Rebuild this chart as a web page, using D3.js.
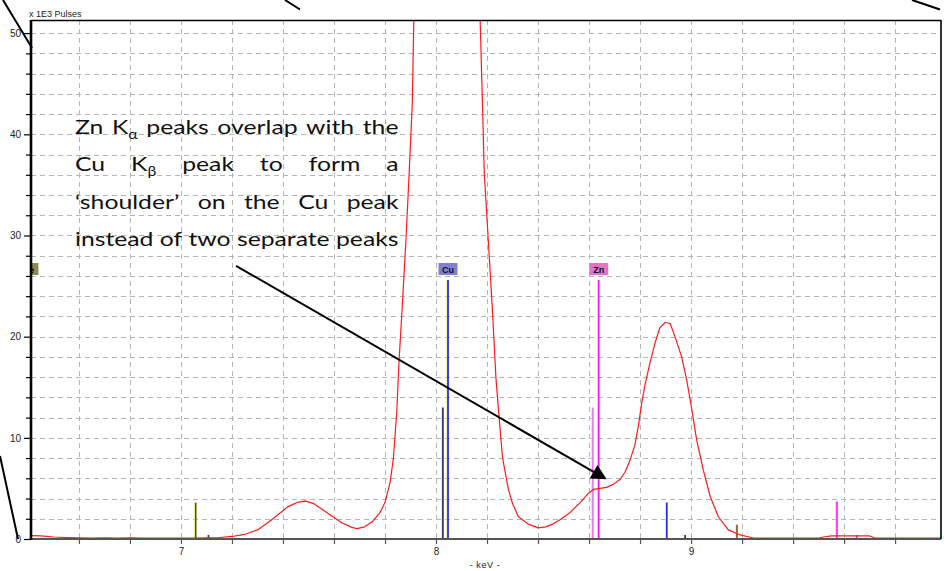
<!DOCTYPE html>
<html>
<head>
<meta charset="utf-8">
<script src="https://cdn.jsdelivr.net/npm/d3@7"></script>
<style>
  html, body { margin: 0; padding: 0; background: #fff; }
  svg { display: block; }
</style>
</head>
<body>
<svg id="chart" width="950" height="571"></svg>
<script>
// EDS spectrum of a Cu/Zn sample: energy (keV) and intensity (x 1000 pulses)
const energy = [
  6.41, 6.45, 6.50, 6.55, 6.60, 6.65, 6.70, 6.75, 6.80, 6.85, 6.90, 6.95, 7.00, 7.05,
  7.10, 7.15, 7.20, 7.25, 7.30, 7.34, 7.38, 7.42, 7.46, 7.49, 7.52, 7.55, 7.59, 7.63,
  7.67, 7.69, 7.72, 7.75, 7.78, 7.80, 7.82, 7.833, 7.846, 7.855, 7.867, 7.882, 7.895,
  7.907, 7.913, 7.93, 7.96, 8.00, 8.04, 8.08, 8.12, 8.15, 8.173, 8.182, 8.189, 8.205,
  8.221, 8.235, 8.248, 8.261, 8.283, 8.30, 8.323, 8.36, 8.40, 8.43, 8.46, 8.486, 8.525,
  8.565, 8.597, 8.617, 8.643, 8.669, 8.695, 8.722, 8.741, 8.761, 8.780, 8.793, 8.807,
  8.820, 8.839, 8.859, 8.878, 8.898, 8.918, 8.937, 8.963, 8.983, 9.003, 9.022, 9.048,
  9.075, 9.107, 9.146, 9.192, 9.245, 9.30, 9.35, 9.40, 9.45, 9.50, 9.52, 9.55, 9.60,
  9.65, 9.70, 9.72, 9.80, 9.90, 9.98
];
const counts = [
  0.33, 0.30, 0.20, 0.15, 0.12, 0.10, 0.12, 0.10, 0.12, 0.10, 0.08, 0.08, 0.10, 0.10,
  0.12, 0.15, 0.25, 0.45, 0.90, 1.60, 2.40, 3.20, 3.65, 3.75, 3.50, 3.00, 2.30, 1.60,
  1.15, 1.03, 1.20, 1.70, 2.60, 3.60, 5.60, 8.0, 12.5, 17.6, 22.7, 29.5, 36.3,
  43.1, 51.3, 75, 110, 140, 150, 140, 100, 75, 51.3, 43.1, 36.3, 29.5,
  22.7, 15.9, 11.8, 8.0, 5.0, 3.5, 2.2, 1.5, 1.1, 1.2, 1.5, 1.9, 2.6,
  3.6, 4.5, 4.9, 5.0, 5.1, 5.4, 5.9, 6.6, 7.8, 9.3, 11.1, 13.5,
  15.3, 17.4, 19.4, 20.9, 21.4, 21.3, 20.0, 18.0, 15.7, 12.8, 9.8, 6.8,
  4.2, 2.2, 0.9, 0.4, 0.1, 0.1, 0.1, 0.1, 0.1, 0.1, 0.2, 0.3, 0.3,
  0.3, 0.3, 0.1, 0.1, 0.1, 0.1
];

// Element line markers (energy keV, relative height in the same units)
const cuEnergy = [8.027, 8.047, 8.905, 8.977];
const cuHeight = [13.0, 25.6, 3.6, 0.4];
const znEnergy = [8.615, 8.638, 9.572, 9.650];
const znHeight = [13.0, 25.6, 3.7, 0.4];
const feEnergy = [6.391, 6.404, 7.058, 7.108];
const feHeight = [13.0, 25.6, 3.6, 0.4];
const sumEnergy = [9.180];
const sumHeight = [1.4];

// Axis ticks
const xTickLabels = [7, 8, 9];
const yTickLabels = [0, 10, 20, 30, 40, 50];

// Annotation text, one array per line; [text, subscript]
const noteLines = [
  [["Zn"], ["K", "α"], ["peaks"], ["overlap"], ["with"], ["the"]],
  [["Cu"], ["K", "β"], ["peak"], ["to"], ["form"], ["a"]],
  [["‘shoulder’"], ["on"], ["the"], ["Cu"], ["peak"]],
  [["instead"], ["of"], ["two"], ["separate"], ["peaks"]]
];
const arrowFrom = [7.216, 27.0];
const arrowTo = [8.669, 5.9];

// ---- layout ----
const svg = d3.select("#chart");
const L = 31, R = 941, T = 20, B = 539;

const x = d3.scaleLinear().domain([6.412, 9.98]).range([L, R]);
const y = d3.scaleLinear().domain([0, 51.3]).range([B, T]);

svg.append("defs").append("clipPath").attr("id", "plotClip")
  .append("rect").attr("x", L).attr("y", T).attr("width", R - L).attr("height", B - T);

// Grid
const grid = svg.append("g").attr("stroke", "#b4b4b4").attr("stroke-width", 1)
  .attr("stroke-dasharray", "5,4");
grid.selectAll("line.h").data(d3.range(2, 51, 2)).join("line")
  .attr("x1", L).attr("x2", R)
  .attr("y1", d => Math.round(y(d)) + 0.5).attr("y2", d => Math.round(y(d)) + 0.5);
grid.selectAll("line.v").data(d3.range(6.6, 9.9, 0.2)).join("line")
  .attr("y1", T).attr("y2", B)
  .attr("x1", d => Math.round(x(d)) + 0.5).attr("x2", d => Math.round(x(d)) + 0.5);

const plot = svg.append("g").attr("clip-path", "url(#plotClip)");

// Element markers
function markers(en, ht, colors) {
  const g = plot.append("g");
  en.forEach((e, i) => {
    const px = x(e);
    g.append("line").attr("x1", px - 1.2).attr("x2", px - 1.2)
      .attr("y1", y(0)).attr("y2", y(ht[i]))
      .attr("stroke", "#eeee70").attr("stroke-width", 0.9);
    g.append("line").attr("x1", px).attr("x2", px)
      .attr("y1", y(0)).attr("y2", y(ht[i]))
      .attr("stroke", colors[i]).attr("stroke-width", 1.6);
  });
}
markers(cuEnergy, cuHeight, ["#22226e", "#1010ff", "#2020ee", "#1a1aaa"]);
markers(znEnergy, znHeight, ["#f070e8", "#ff10ff", "#ff10ff", "#e020d0"]);
markers(feEnergy, feHeight, ["#6e6e20", "#6e6e20", "#5a5a18", "#3a3a10"]);
markers(sumEnergy, sumHeight, ["#7a5218"]);

// Element tags above the strongest line
function tag(label, e, h, fill) {
  const cx = x(e), top = y(h) - 17;
  plot.append("rect").attr("x", cx - 9.5).attr("y", top).attr("width", 19).attr("height", 12)
    .attr("fill", fill);
  plot.append("text").attr("x", cx).attr("y", top + 9.5).attr("text-anchor", "middle")
    .attr("font-family", "Liberation Sans, Arial, sans-serif").attr("font-size", 9)
    .attr("font-weight", "bold").attr("fill", "#101020").text(label);
}
tag("Cu", cuEnergy[1], cuHeight[1], "#8080d0");
tag("Zn", znEnergy[1], znHeight[1], "#e872c8");
tag("Fe", feEnergy[1], feHeight[1], "#8a8a52");

// Spectrum
plot.append("path").datum(energy.map((e, i) => [e, counts[i]]))
  .attr("fill", "none").attr("stroke", "#ff1a1a").attr("stroke-width", 1.2)
  .attr("stroke-linejoin", "round")
  .attr("d", d3.line().x(d => x(d[0])).y(d => y(d[1])));

// Axes
const small = "Liberation Sans, Arial, sans-serif";
const yAxis = svg.append("g").attr("transform", `translate(${L},0)`)
  .call(d3.axisLeft(y).tickValues(d3.range(0, 51, 2)).tickSize(5)
    .tickFormat(d => yTickLabels.includes(d) ? d : ""));
yAxis.select(".domain").remove();
yAxis.selectAll(".tick line").attr("stroke", "#000").attr("stroke-width", 1.2)
  .attr("x2", d => yTickLabels.includes(d) ? -7 : -5);
yAxis.selectAll(".tick text").attr("x", -10).attr("font-family", small)
  .attr("font-size", 10).attr("fill", "#222");

const xAxis = svg.append("g").attr("transform", `translate(0,${B})`)
  .call(d3.axisBottom(x).tickValues(d3.range(6.6, 9.9, 0.2)).tickSize(5)
    .tickFormat(d => xTickLabels.some(v => Math.abs(v - d) < 1e-6) ? d3.format("d")(d) : ""));
xAxis.select(".domain").remove();
xAxis.selectAll(".tick line").attr("stroke", "#555").attr("stroke-width", 1.2);
xAxis.selectAll(".tick text").attr("y", 9).attr("font-family", small)
  .attr("font-size", 10).attr("fill", "#222");

// Frame
svg.append("line").attr("x1", L).attr("x2", R).attr("y1", B).attr("y2", B)
  .attr("stroke", "#555").attr("stroke-width", 2.2);
svg.append("line").attr("x1", L).attr("x2", R).attr("y1", T + 0.5).attr("y2", T + 0.5)
  .attr("stroke", "#000").attr("stroke-width", 1.6);
svg.append("line").attr("x1", R).attr("x2", R).attr("y1", T).attr("y2", B)
  .attr("stroke", "#000").attr("stroke-width", 1.6);
svg.append("line").attr("x1", L).attr("x2", L).attr("y1", T).attr("y2", B + 1)
  .attr("stroke", "#000").attr("stroke-width", 2.6);

svg.append("text").attr("x", 29).attr("y", 17).attr("font-family", small)
  .attr("font-size", 9).attr("fill", "#222").text("x 1E3 Pulses");
svg.append("text").attr("x", 485).attr("y", 568).attr("text-anchor", "middle")
  .attr("font-family", small).attr("font-size", 9).attr("fill", "#222")
  .attr("letter-spacing", 0.6).text("- keV -");

// Callout guide lines around the panel
const guides = [[3, 0, 32, 48], [0, 456, 18, 539], [285, 0, 300, 9.5], [912, 0, 940, 9.5]];
svg.append("g").selectAll("line").data(guides).join("line")
  .attr("x1", d => d[0]).attr("y1", d => d[1]).attr("x2", d => d[2]).attr("y2", d => d[3])
  .attr("stroke", "#000").attr("stroke-width", 2);

// Justified annotation block
const noteLeft = 75, noteRight = 398.5, base0 = 134, lineGap = 37.4;
const noteFont = "Lato, 'Open Sans', sans-serif";
const probe = svg.append("text").attr("font-family", noteFont).attr("font-size", 19.5)
  .text(noteLines[3].map(w => w.join("")).join(" "));
const natural = probe.node().getComputedTextLength();
probe.remove();
const sx = (noteRight - noteLeft) / natural;
const W = (noteRight - noteLeft) / sx;

noteLines.forEach((words, li) => {
  const g = svg.append("g")
    .attr("transform", `translate(${noteLeft},${base0 + li * lineGap}) scale(${sx},1)`);
  const nodes = words.map(w => {
    const t = g.append("text").attr("font-family", noteFont).attr("font-size", 19.5)
      .attr("fill", "#111");
    t.append("tspan").text(w[0]);
    if (w[1]) t.append("tspan").attr("font-size", 12.5).attr("dy", 4.5).text(w[1]);
    return t;
  });
  const widths = nodes.map(t => t.node().getComputedTextLength());
  const gap = (W - d3.sum(widths)) / (words.length - 1);
  let cx = 0;
  nodes.forEach((t, i) => { t.attr("x", cx); cx += widths[i] + gap; });
});

// Arrow pointing at the shoulder
const ax0 = x(arrowFrom[0]), ay0 = y(arrowFrom[1]);
const ax1 = x(arrowTo[0]), ay1 = y(arrowTo[1]);
const ang = Math.atan2(ay1 - ay0, ax1 - ax0);
const headLen = 15, headHalf = 7.8;
const bx = ax1 - headLen * Math.cos(ang), by = ay1 - headLen * Math.sin(ang);
svg.append("line").attr("x1", ax0).attr("y1", ay0).attr("x2", bx).attr("y2", by)
  .attr("stroke", "#000").attr("stroke-width", 2);
svg.append("polygon").attr("fill", "#000").attr("points", [
  [ax1, ay1],
  [bx - headHalf * Math.sin(ang), by + headHalf * Math.cos(ang)],
  [bx + headHalf * Math.sin(ang), by - headHalf * Math.cos(ang)]
].map(p => p.join(",")).join(" "));
</script>
</body>
</html>
